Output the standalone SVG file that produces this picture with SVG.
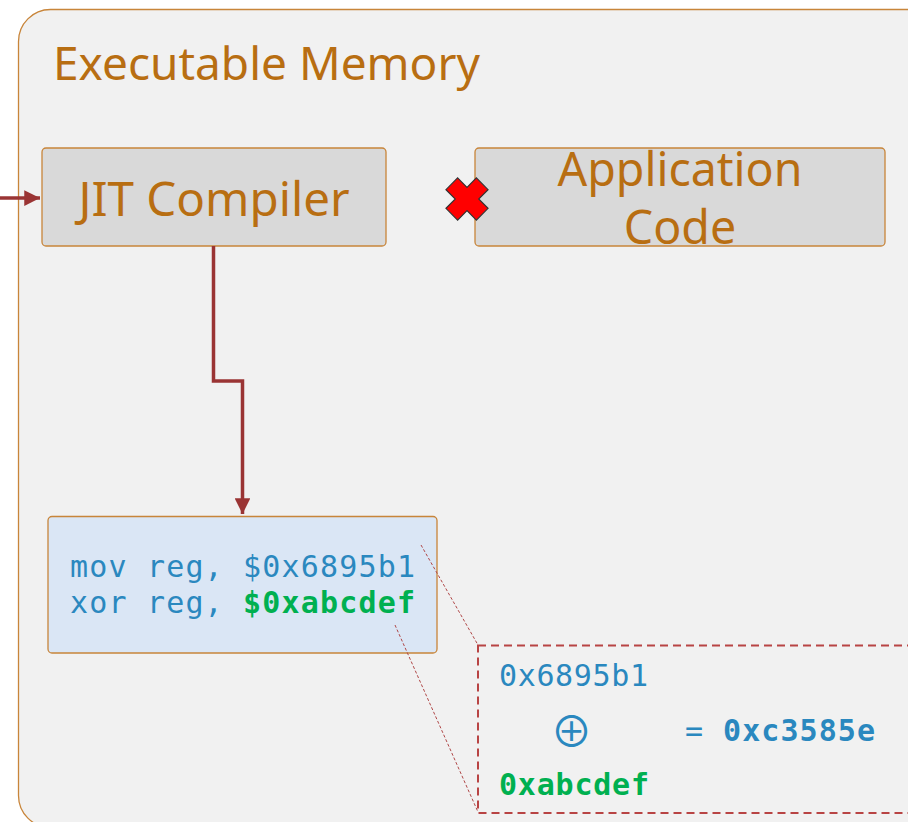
<svg xmlns="http://www.w3.org/2000/svg" width="908" height="822" viewBox="0 0 908 822">
<defs>
<style>
.title{font-family:"Noto Sans","Open Sans",sans-serif;fill:#b86e12}
.box{fill:#d9d9d9;stroke:#c8853a;stroke-width:1.3}
.mono{font-family:"DejaVu Sans Mono","Liberation Mono",monospace;font-size:30px}
.blue{fill:#2a88bf}
.green{fill:#00b050;font-weight:bold}
.conn{fill:none;stroke:#9a3434;stroke-width:3.5}
.thin{fill:none;stroke:#b04848;stroke-width:1;stroke-dasharray:3,2}
</style>
<marker id="ah" viewBox="0 0 10 10" refX="10" refY="5" markerWidth="4.5" markerHeight="4.5" orient="auto" markerUnits="strokeWidth">
<path d="M0,0 L10,5 L0,10 z" fill="#9a3434"/>
</marker>
</defs>
<rect width="908" height="822" fill="#ffffff"/>
<g id="executable-memory">
<rect x="18.5" y="9.5" width="940" height="818" rx="32" ry="32" fill="#f1f1f1" stroke="#c8853a" stroke-width="1.3"/>
<text class="title" x="53" y="80" font-size="46">Executable Memory</text>
</g>
<g id="jit-compiler">
<rect class="box" x="42" y="148" width="344" height="98" rx="4"/>
<text class="title" x="214" y="216" font-size="47.5" text-anchor="middle">JIT Compiler</text>
</g>
<g id="application-code">
<rect class="box" x="475" y="148" width="410" height="98" rx="4"/>
<text class="title" x="680" y="186" font-size="46.5" text-anchor="middle">Application</text>
<text class="title" x="680" y="244" font-size="46.5" text-anchor="middle">Code</text>
</g>
<g id="blocked-mark">
<path transform="translate(467,199) scale(1.17) translate(-467,-200)" d="M459,182 L467,190 L475,182 L485,192 L477,200 L485,208 L475,218 L467,210 L459,218 L449,208 L457,200 L449,192 Z" fill="#ff0000" stroke="#333333" stroke-width="1"/>
</g>
<g id="code-box">
<rect x="48" y="516.5" width="389" height="136.5" rx="4" fill="#dae6f5" stroke="#c8853a" stroke-width="1.3"/>
<text class="mono" x="70" y="577" textLength="345" lengthAdjust="spacing"><tspan class="blue">mov reg, $0x6895b1</tspan></text>
<text class="mono" x="70" y="613" textLength="345" lengthAdjust="spacing"><tspan class="blue">xor reg, </tspan><tspan class="green">$0xabcdef</tspan></text>
</g>
<g id="xor-detail">
<rect x="478" y="645.5" width="460" height="167.5" fill="none" stroke="#b84444" stroke-width="2" stroke-dasharray="8,5"/>
<text class="mono blue" x="499" y="686" textLength="149" lengthAdjust="spacing">0x6895b1</text>
<text class="blue" x="571.5" y="747" style="font-family:'Noto Sans CJK SC',sans-serif;font-size:42px;font-weight:400" text-anchor="middle">⊕</text>
<text class="mono blue" x="685" y="741">=</text>
<text class="mono blue" x="723" y="741" font-weight="bold" textLength="152" lengthAdjust="spacing">0xc3585e</text>
<text class="mono green" x="499" y="795" textLength="150" lengthAdjust="spacing">0xabcdef</text>
</g>
<g id="connectors">
<path class="conn" d="M0,198 L40,198" marker-end="url(#ah)"/>
<path class="conn" d="M213.5,246 L213.5,381 L242.5,381 L242.5,514" marker-end="url(#ah)"/>
<path class="thin" d="M421,545 L478,645"/>
<path class="thin" d="M395,625 L478,812"/>
</g>
</svg>
